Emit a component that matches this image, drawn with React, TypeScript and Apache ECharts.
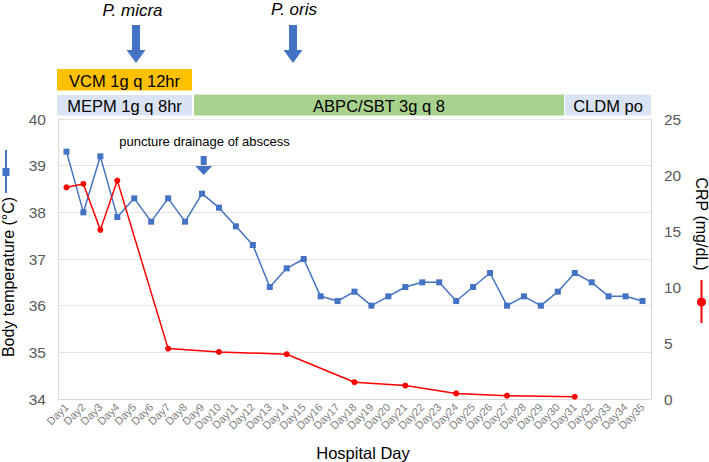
import React, { useEffect, useRef } from "react";
import * as echarts from "echarts";

const days: string[] = Array.from({ length: 35 }, (_, i) => `Day${i + 1}`);
const temperature: number[] = [
  39.3, 38.0, 39.2, 37.9, 38.3, 37.8, 38.3, 37.8, 38.4, 38.1,
  37.7, 37.3, 36.4, 36.8, 37.0, 36.2, 36.1, 36.3, 36.0, 36.2,
  36.4, 36.5, 36.5, 36.1, 36.4, 36.7, 36.0, 36.2, 36.0, 36.3,
  36.7, 36.5, 36.2, 36.2, 36.1,
];
const crpDays: number[] = [1, 2, 3, 4, 7, 10, 14, 18, 21, 24, 27, 31];
const crpValues: number[] = [18.9, 19.2, 15.1, 19.5, 4.5, 4.2, 4.0, 1.5, 1.2, 0.5, 0.3, 0.2];
const tempTicks = { min: 34, max: 40, interval: 1 };
const crpTicks = { min: 0, max: 25, interval: 5 };

const BLUE = "#4472C4";
const RED = "#FF0000";
const FONT = "Liberation Sans, Arial, sans-serif";

function arrow(cx: number, top: number, headY: number, tip: number, shaftHalf: number, headHalf: number) {
  return {
    type: "polygon",
    shape: {
      points: [
        [cx - shaftHalf, top],
        [cx + shaftHalf, top],
        [cx + shaftHalf, headY],
        [cx + headHalf, headY],
        [cx, tip],
        [cx - headHalf, headY],
        [cx - shaftHalf, headY],
      ],
    },
    style: { fill: BLUE },
  };
}

function bar(x: number, y: number, w: number, h: number, fill: string, label: string) {
  return [
    { type: "rect", shape: { x, y, width: w, height: h }, style: { fill } },
    {
      type: "text",
      x: x + w / 2,
      y: y + h / 2 + 1,
      style: {
        text: label,
        fill: "#000",
        font: `16.5px ${FONT}`,
        align: "center",
        verticalAlign: "middle",
      },
    },
  ];
}

export default function App() {
  const ref = useRef<HTMLDivElement>(null);
  useEffect(() => {
    if (!ref.current) return;
    const chart = echarts.init(ref.current, null, { renderer: "svg" });
    const crpSeries: (number | null)[] = days.map(() => null);
    crpDays.forEach((d, i) => {
      crpSeries[d - 1] = crpValues[i];
    });
    chart.setOption({
      animation: false,
      backgroundColor: "#fff",
      textStyle: { fontFamily: FONT },
      grid: { left: 58, right: 58, top: 119, bottom: 63 },
      xAxis: {
        type: "category",
        data: days,
        boundaryGap: true,
        axisLine: { show: true, lineStyle: { color: "#d9d9d9" } },
        axisTick: { show: false },
        axisLabel: {
          interval: 0,
          rotate: 45,
          fontSize: 11,
          color: "#808080",
          margin: 6,
          fontFamily: FONT,
        },
      },
      yAxis: [
        {
          type: "value",
          min: tempTicks.min,
          max: tempTicks.max,
          interval: tempTicks.interval,
          axisLine: { show: true, lineStyle: { color: "#d9d9d9" } },
          axisTick: { show: false },
          splitLine: { lineStyle: { color: "#e3e3e3" } },
          axisLabel: { fontSize: 15.5, color: "#595959", margin: 12, fontFamily: FONT },
        },
        {
          type: "value",
          min: crpTicks.min,
          max: crpTicks.max,
          interval: crpTicks.interval,
          position: "right",
          axisLine: { show: true, lineStyle: { color: "#d9d9d9" } },
          axisTick: { show: false },
          splitLine: { show: false },
          axisLabel: { fontSize: 15.5, color: "#595959", margin: 13, fontFamily: FONT },
        },
      ],
      series: [
        {
          name: "Body temperature",
          type: "line",
          yAxisIndex: 0,
          data: temperature,
          symbol: "rect",
          symbolSize: 6,
          lineStyle: { color: BLUE, width: 1.5 },
          itemStyle: { color: BLUE },
        },
        {
          name: "CRP",
          type: "line",
          yAxisIndex: 1,
          data: crpSeries,
          connectNulls: true,
          symbol: "circle",
          symbolSize: 6,
          lineStyle: { color: RED, width: 1.5 },
          itemStyle: { color: RED },
          z: 3,
        },
      ],
      graphic: [
        {
          type: "text",
          x: 132.5,
          y: 10,
          style: { text: "P. micra", font: `italic 17px ${FONT}`, fill: "#000", align: "center", verticalAlign: "middle" },
        },
        {
          type: "text",
          x: 294,
          y: 9,
          style: { text: "P. oris", font: `italic 17px ${FONT}`, fill: "#000", align: "center", verticalAlign: "middle" },
        },
        arrow(136, 25, 50, 63, 4, 9.5),
        arrow(293, 25, 50, 63, 4, 9.5),
        ...bar(57, 69, 135, 21.5, "#FFC000", "VCM 1g q 12hr"),
        ...bar(57, 95, 135, 20.5, "#DAE3F3", "MEPM 1g q 8hr"),
        ...bar(194, 94.5, 370, 21, "#A9D18E", "ABPC/SBT 3g q 8"),
        ...bar(565, 94.5, 86, 21, "#DAE3F3", "CLDM po"),
        {
          type: "text",
          x: 204.5,
          y: 141,
          style: { text: "puncture drainage of abscess", font: `13px ${FONT}`, fill: "#000", align: "center", verticalAlign: "middle" },
        },
        arrow(203.7, 156, 166, 175, 3, 8.5),
        {
          type: "text",
          x: 8,
          y: 277,
          rotation: Math.PI / 2,
          style: { text: "Body temperature (°C)", font: `16px ${FONT}`, fill: "#000", align: "center", verticalAlign: "middle" },
        },
        { type: "line", shape: { x1: 6, y1: 150, x2: 6, y2: 193 }, style: { stroke: BLUE, lineWidth: 2 } },
        { type: "rect", shape: { x: 2.5, y: 168, width: 7, height: 8 }, style: { fill: BLUE } },
        {
          type: "text",
          x: 701,
          y: 224,
          rotation: -Math.PI / 2,
          style: { text: "CRP (mg/dL)", font: `16px ${FONT}`, fill: "#000", align: "center", verticalAlign: "middle" },
        },
        { type: "line", shape: { x1: 701.5, y1: 280, x2: 701.5, y2: 323 }, style: { stroke: RED, lineWidth: 2 } },
        { type: "circle", shape: { cx: 701.5, cy: 302, r: 4.5 }, style: { fill: RED } },
        {
          type: "text",
          x: 363,
          y: 453,
          style: { text: "Hospital Day", font: `16.5px ${FONT}`, fill: "#000", align: "center", verticalAlign: "middle" },
        },
      ],
    });
    return () => chart.dispose();
  }, []);
  return <div ref={ref} style={{ width: 709, height: 462, position: "absolute", left: 0, top: 0 }} />;
}
